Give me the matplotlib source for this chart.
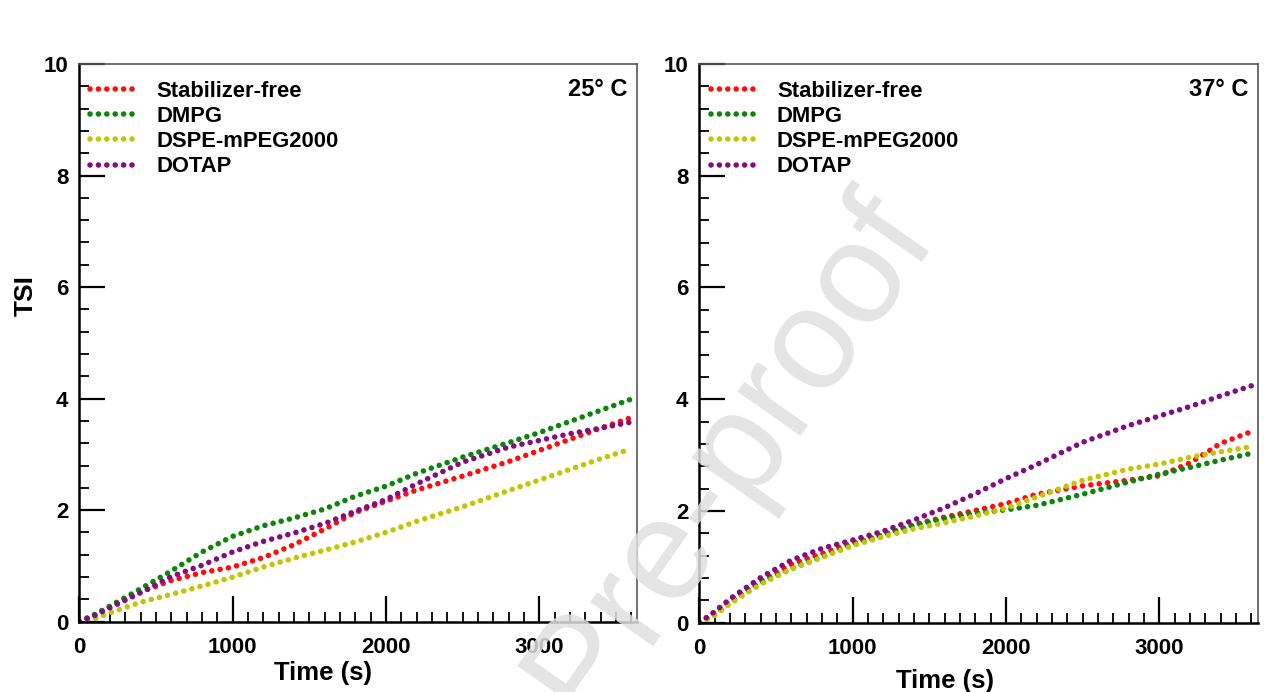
import numpy as np
import matplotlib
matplotlib.use("Agg")
import matplotlib.pyplot as plt
from matplotlib.ticker import MultipleLocator

plt.rcParams['font.family'] = ['Liberation Sans', 'DejaVu Sans']
plt.rcParams['font.weight'] = 'bold'

# sampling times (s), shared by all series
time_s = [0, 100, 200, 400, 600, 800, 1000, 1200, 1400, 1600, 1800,
          2000, 2200, 2500, 2800, 3000, 3200, 3400, 3600]

labels = ["Stabilizer-free", "DMPG", "DSPE-mPEG2000", "DOTAP"]
colors = ["#ff0d0d", "#0a850a", "#c4c400", "#820c82"]

# 25 C panel
tsi_25_free = [0, 0.12, 0.27, 0.53, 0.74, 0.88, 0.98, 1.15, 1.38, 1.66, 1.96,
               2.16, 2.36, 2.61, 2.87, 3.07, 3.27, 3.47, 3.66]
tsi_25_dmpg = [0, 0.13, 0.28, 0.59, 0.91, 1.25, 1.53, 1.72, 1.86, 2.02, 2.25,
               2.43, 2.66, 2.95, 3.21, 3.39, 3.59, 3.79, 3.99]
tsi_25_dspe = [0, 0.05, 0.16, 0.35, 0.49, 0.64, 0.80, 0.98, 1.14, 1.28, 1.43,
               1.60, 1.80, 2.06, 2.35, 2.54, 2.73, 2.92, 3.10]
tsi_25_dotap = [0, 0.11, 0.25, 0.52, 0.81, 1.01, 1.25, 1.44, 1.59, 1.76, 1.98,
                2.19, 2.47, 2.86, 3.13, 3.25, 3.37, 3.47, 3.58]

# 37 C panel
tsi_37_free = [0, 0.19, 0.40, 0.74, 1.05, 1.24, 1.43, 1.58, 1.76, 1.89, 2.01,
               2.13, 2.30, 2.45, 2.55, 2.63, 2.86, 3.21, 3.42]
tsi_37_dmpg = [0, 0.14, 0.36, 0.72, 0.97, 1.18, 1.40, 1.58, 1.74, 1.86, 1.96,
               2.02, 2.10, 2.30, 2.52, 2.66, 2.78, 2.91, 3.03]
tsi_37_dspe = [0, 0.13, 0.34, 0.69, 0.96, 1.17, 1.38, 1.54, 1.68, 1.79, 1.91,
               2.05, 2.25, 2.55, 2.75, 2.84, 2.96, 3.06, 3.15]
tsi_37_dotap = [0, 0.20, 0.43, 0.81, 1.12, 1.33, 1.48, 1.64, 1.84, 2.06, 2.31,
                2.58, 2.83, 3.23, 3.53, 3.70, 3.87, 4.06, 4.24]

panels = [
    ("25° C", [tsi_25_free, tsi_25_dmpg, tsi_25_dspe, tsi_25_dotap]),
    ("37° C", [tsi_37_free, tsi_37_dmpg, tsi_37_dspe, tsi_37_dotap]),
]

W, H = 1273, 692
fig = plt.figure(figsize=(W / 100, H / 100), dpi=100)

# axes boxes in pixels: left, top, right, bottom
boxes = [(79.3, 64, 637.3, 621.7), (699.5, 64, 1257.5, 622.7)]
xlabel_pos = [(0.437, -0.071), (0.44, -0.082)]

dot_style = dict(linestyle=(0, (0.01, 1.5)), linewidth=4.0,
                 dash_capstyle='round')

for i, ((title, series), (l, t, r, b)) in enumerate(zip(panels, boxes)):
    ax = fig.add_axes([l / W, 1 - b / H, (r - l) / W, (b - t) / H])
    for y, c, lab in zip(series, colors, labels):
        ax.plot(time_s, y, color=c, label=lab, **dot_style)

    ax.set_xlim(0, 3640)
    ax.set_ylim(0, 10)
    ax.xaxis.set_major_locator(MultipleLocator(1000))
    ax.xaxis.set_minor_locator(MultipleLocator(100))
    ax.yaxis.set_major_locator(MultipleLocator(2))
    ax.yaxis.set_minor_locator(MultipleLocator(0.4))
    ax.tick_params(which='major', direction='in', length=19, width=1.6,
                   labelsize=16, top=False, right=False)
    ax.tick_params(which='minor', direction='in', length=7, width=1.3,
                   top=False, right=False)
    ax.tick_params(axis='x', which='major', pad=11)
    ax.tick_params(axis='y', which='major', pad=8)
    for lbl in ax.get_xticklabels() + ax.get_yticklabels():
        lbl.set_fontweight('bold')

    for side in ['left', 'bottom']:
        ax.spines[side].set_linewidth(1.8)
        ax.spines[side].set_color('black')
    for side in ['top', 'right']:
        ax.spines[side].set_linewidth(1.2)
        ax.spines[side].set_color('#555555')

    ax.set_xlabel("Time (s)", fontsize=18.5, fontweight='bold', va='top')
    ax.xaxis.set_label_coords(*xlabel_pos[i])
    if i == 0:
        ax.set_ylabel("TSI", fontsize=19, fontweight='bold')
        ax.yaxis.set_label_coords(-0.074, 0.584)

    ax.text(0.983, 0.954, title, transform=ax.transAxes, ha='right',
            va='center', fontsize=17, fontweight='bold')

    ax.legend(loc='upper left', bbox_to_anchor=(0.02, 0.97), frameon=False,
              handlelength=2.2, handletextpad=0.82,
              labelspacing=0.19, borderpad=0, borderaxespad=0,
              prop={'weight': 'bold', 'size': 15.8})

# faint watermark
fig.text(0.462, 0.025, "Journal Pre-proof", rotation=55, fontsize=104,
         color='#e0e0e0', alpha=0.85, ha='center', va='center',
         rotation_mode='anchor', fontweight='normal', zorder=10)

fig.savefig("out.png", dpi=100)
